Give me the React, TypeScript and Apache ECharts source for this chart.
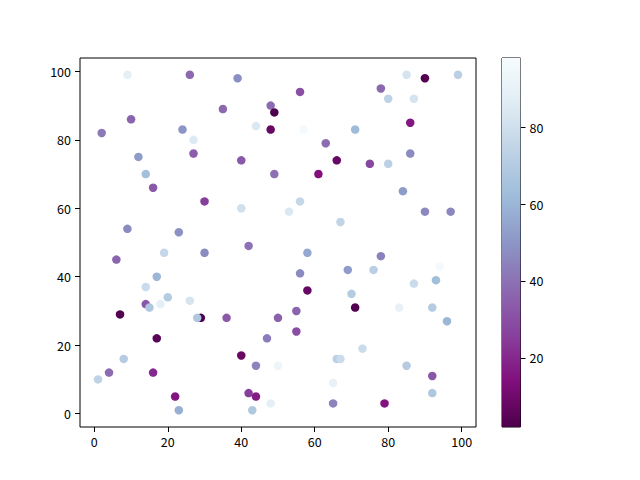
import React, { useEffect, useRef } from "react";
import * as echarts from "echarts";

const xValues = [
  9, 26, 35, 10, 2, 24, 27, 27, 12, 14, 16, 30, 9, 23, 39, 56, 48, 49, 44, 48,
  57, 63, 40, 66, 49, 61, 40, 56, 53, 67, 42, 85, 90, 99, 78, 80, 87, 86, 71, 75,
  80, 86, 84, 90, 97, 19, 30, 6, 17, 14, 20, 26, 14, 15, 18, 7, 29, 28, 17, 8,
  4, 1, 16, 22, 23, 58, 56, 69, 58, 70, 36, 50, 55, 55, 47, 40, 44, 50, 66, 67,
  65, 42, 44, 48, 43, 65, 78, 76, 94, 87, 93, 71, 83, 92, 96, 73, 85, 92, 92, 79,
];
const yValues = [
  99, 99, 89, 86, 82, 83, 80, 76, 75, 70, 66, 62, 54, 53, 98, 94, 90, 88, 84, 83,
  83, 79, 74, 74, 70, 70, 60, 62, 59, 56, 49, 99, 98, 99, 95, 92, 92, 85, 83, 73,
  73, 76, 65, 59, 59, 47, 47, 45, 40, 37, 34, 33, 32, 31, 32, 29, 28, 28, 22, 16,
  12, 10, 12, 5, 1, 47, 41, 42, 36, 35, 28, 28, 30, 24, 22, 17, 14, 14, 16, 16,
  9, 6, 5, 3, 1, 3, 46, 42, 43, 38, 39, 31, 31, 31, 27, 19, 14, 11, 6, 3,
];
const cValues = [
  88, 37, 37, 36, 42, 50, 85, 34, 52, 64, 33, 25, 47, 49, 48, 30, 38, 2, 84, 8,
  96, 38, 33, 8, 40, 14, 80, 76, 84, 75, 40, 82, 3, 72, 37, 74, 82, 16, 62, 28,
  73, 47, 52, 46, 46, 76, 47, 36, 60, 78, 70, 82, 32, 68, 88, 3, 2, 68, 5, 70,
  38, 74, 20, 16, 58, 56, 47, 52, 8, 70, 33, 35, 36, 30, 43, 8, 45, 93, 72, 78,
  90, 25, 17, 88, 68, 45, 44, 72, 96, 78, 63, 3, 90, 70, 60, 78, 70, 32, 68, 15,
];

const xTicks = [0, 20, 40, 60, 80, 100];
const yTicks = [0, 20, 40, 60, 80, 100];
const cTicks = [20, 40, 60, 80];
const cMin = 2;
const cMax = 98;
const bupuReversed = [
  "#4d004b", "#810f7c", "#88419d", "#8c6bb1", "#8c96c6",
  "#9ebcda", "#bfd3e6", "#e0ecf4", "#f7fcfd",
];

const FONT = "Noto Sans CJK SC";

export default function App() {
  const ref = useRef<HTMLDivElement>(null);
  useEffect(() => {
    if (!ref.current) return;
    const chart = echarts.init(ref.current, null, { renderer: "svg" });
    const points = xValues.map((x, i) => [x, yValues[i], cValues[i]]);
    const stops = bupuReversed
      .slice()
      .reverse()
      .map((c, i, arr) => ({ offset: i / (arr.length - 1), color: c }));
    const labelStyle = { color: "#000", fontSize: 12.5, fontFamily: FONT };
    const lineStyle = { color: "#000", width: 1 };
    chart.setOption({
      animation: false,
      backgroundColor: "#fff",
      grid: [
        { left: 80, top: 58, width: 396, height: 369, show: true, borderColor: "#000", borderWidth: 1, backgroundColor: "transparent" },
        { left: 502, top: 58, width: 18.5, height: 369, show: true, borderColor: "#000", borderWidth: 1, backgroundColor: "transparent" },
      ],
      xAxis: [
        {
          type: "value", gridIndex: 0, min: -3.9, max: 103.9, position: "bottom",
          splitLine: { show: false },
          axisLine: { show: false, onZero: false },
          axisTick: { show: true, length: 5, lineStyle, customValues: xTicks },
          axisLabel: { ...labelStyle, margin: 8, customValues: xTicks },
        },
        {
          type: "value", gridIndex: 1, min: 0, max: 1, show: false,
          axisLine: { onZero: false },
        },
      ],
      yAxis: [
        {
          type: "value", gridIndex: 0, min: -3.9, max: 103.9, position: "left",
          splitLine: { show: false },
          axisLine: { show: false, onZero: false },
          axisTick: { show: true, length: 5, lineStyle, customValues: yTicks },
          axisLabel: { ...labelStyle, margin: 9, customValues: yTicks },
        },
        {
          type: "value", gridIndex: 1, min: cMin, max: cMax, position: "right",
          splitLine: { show: false },
          axisLine: { show: false, onZero: false },
          axisTick: { show: true, length: 5, lineStyle, customValues: cTicks },
          axisLabel: { ...labelStyle, margin: 9, customValues: cTicks },
        },
      ],
      visualMap: {
        type: "continuous", show: false, seriesIndex: 0, dimension: 2,
        min: cMin, max: cMax, inRange: { color: bupuReversed },
      },
      series: [
        {
          type: "scatter", xAxisIndex: 0, yAxisIndex: 0,
          symbolSize: 8.5, data: points,
          itemStyle: { opacity: 1 },
          emphasis: { disabled: true },
        },
        {
          type: "custom", xAxisIndex: 1, yAxisIndex: 1,
          data: [[0, cMin]],
          silent: true,
          renderItem: (params: any, api: any) => {
            const p0 = api.coord([0, cMax]);
            const p1 = api.coord([1, cMin]);
            return {
              type: "rect",
              shape: { x: p0[0], y: p0[1], width: p1[0] - p0[0], height: p1[1] - p0[1] },
              style: { fill: new echarts.graphic.LinearGradient(0, 0, 0, 1, stops) },
            };
          },
        },
      ],
    });
    return () => chart.dispose();
  }, []);
  return (
    <div
      ref={ref}
      style={{ position: "fixed", left: 0, top: 0, width: 640, height: 480 }}
    />
  );
}
